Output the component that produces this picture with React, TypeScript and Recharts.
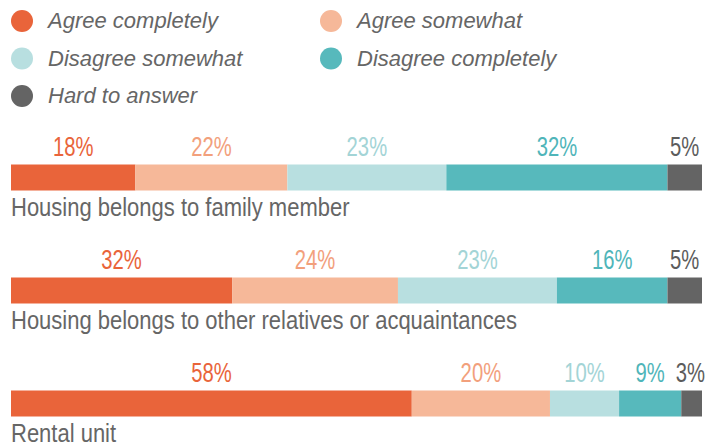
import { Bar, BarChart, LabelList, Legend, XAxis, YAxis } from "recharts";

const CATEGORIES = [
  "Housing belongs to family member",
  "Housing belongs to other relatives or acquaintances",
  "Rental unit",
];

const SERIES_NAMES = [
  "Agree completely",
  "Agree somewhat",
  "Disagree somewhat",
  "Disagree completely",
  "Hard to answer",
];

const AGREE_COMPLETELY = [18, 32, 58];
const AGREE_SOMEWHAT = [22, 24, 20];
const DISAGREE_SOMEWHAT = [23, 23, 10];
const DISAGREE_COMPLETELY = [32, 16, 9];
const HARD_TO_ANSWER = [5, 5, 3];

const BAR_COLORS = ["#e9643a", "#f6b899", "#b8dfe0", "#57b9bc", "#646464"];
const LABEL_COLORS = ["#e9643a", "#f2a07c", "#a3d4d6", "#4fb5b9", "#5c5c5c"];

const KEYS = ["agreeCompletely", "agreeSomewhat", "disagreeSomewhat", "disagreeCompletely", "hardToAnswer"];

const data = CATEGORIES.map((category, i) => ({
  category,
  agreeCompletely: AGREE_COMPLETELY[i],
  agreeSomewhat: AGREE_SOMEWHAT[i],
  disagreeSomewhat: DISAGREE_SOMEWHAT[i],
  disagreeCompletely: DISAGREE_COMPLETELY[i],
  hardToAnswer: HARD_TO_ANSWER[i],
}));

const FONT = "'Liberation Sans', Arial, sans-serif";
const PLOT_RIGHT = 702;
// no narrow font installed, so squeeze Liberation Sans horizontally
const VALUE_SIZE = 27;
const VALUE_SCALE = 0.75;
const CAT_SIZE = 25;
const CAT_SCALE = 0.88;

function renderLegend() {
  return (
    <svg width={714} height={115} style={{ display: "block" }}>
      {SERIES_NAMES.map((name, i) => {
        const col = i % 2;
        const row = Math.floor(i / 2);
        const cx = col ? 331 : 22;
        const cy = 21 + row * 37.5;
        return (
          <g key={name}>
            <circle cx={cx} cy={cy} r={11} fill={BAR_COLORS[i]} />
            <text
              x={cx + 26}
              y={cy + 7}
              fill="#666666"
              fontSize={22}
              fontStyle="italic"
              fontFamily={FONT}
            >
              {name}
            </text>
          </g>
        );
      })}
    </svg>
  );
}

function valueLabel(color: string) {
  return (props: any) => {
    const { x, y, width, value } = props;
    const text = `${value}%`;
    const half = (((text.length - 1) * 0.556 + 0.889) * VALUE_SIZE * VALUE_SCALE) / 2;
    let cx = Number(x) + Number(width) / 2;
    if (cx + half > PLOT_RIGHT + 3) cx = PLOT_RIGHT + 3 - half;
    return (
      <text
        transform={`translate(${cx},${Number(y) - 9}) scale(${VALUE_SCALE},1)`}
        textAnchor="middle"
        fill={color}
        fontSize={VALUE_SIZE}
        fontFamily={FONT}
      >
        {text}
      </text>
    );
  };
}

function categoryLabel(props: any) {
  const { x, y, height, value } = props;
  return (
    <text
      transform={`translate(${Number(x)},${Number(y) + Number(height) + 25}) scale(${CAT_SCALE},1)`}
      fill="#666666"
      fontSize={CAT_SIZE}
      fontFamily={FONT}
    >
      {value}
    </text>
  );
}

export default function App() {
  return (
    <div
      style={{
        position: "absolute",
        left: 0,
        top: 0,
        width: 714,
        height: 447,
        overflow: "hidden",
        background: "#ffffff",
      }}
    >
      <BarChart
        width={714}
        height={470}
        data={data}
        layout="vertical"
        margin={{ top: 120.5, right: 12, bottom: 10.5, left: 11 }}
        barSize={26}
      >
        <XAxis type="number" domain={[0, 100]} hide />
        <YAxis type="category" dataKey="category" hide />
        <Legend
          layout="horizontal"
          verticalAlign="middle"
          align="center"
          wrapperStyle={{ top: 0, left: 0, width: 714, height: 115 }}
          content={renderLegend}
        />
        {KEYS.map((key, i) => (
          <Bar
            key={key}
            dataKey={key}
            name={SERIES_NAMES[i]}
            stackId="a"
            fill={BAR_COLORS[i]}
            isAnimationActive={false}
          >
            <LabelList dataKey={key} content={valueLabel(LABEL_COLORS[i])} />
            {i === 0 && <LabelList dataKey="category" content={categoryLabel} />}
          </Bar>
        ))}
      </BarChart>
    </div>
  );
}
